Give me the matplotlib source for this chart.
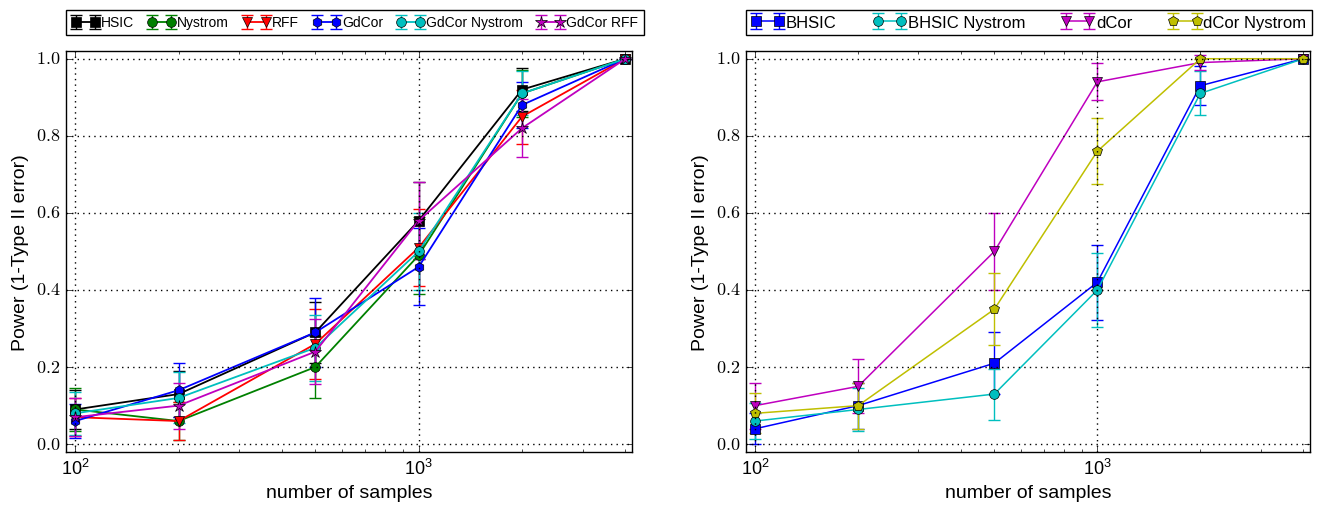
import numpy as np
import matplotlib
matplotlib.use('Agg')
from matplotlib import pyplot as plt
from matplotlib.ticker import FuncFormatter

plt.style.use('classic')
plt.rcParams['font.family'] = ['Liberation Sans', 'DejaVu Sans']
plt.rcParams['mathtext.fontset'] = 'cm'
plt.rcParams['figure.facecolor'] = 'white'
plt.rcParams['savefig.facecolor'] = 'white'

n_samples = [100, 200, 500, 1000, 2000, 4000]

# left panel
hsic = [0.09, 0.13, 0.29, 0.58, 0.92, 1.0]
hsic_err = [0.05, 0.06, 0.08, 0.10, 0.055, 0.0]
nystrom = [0.09, 0.06, 0.20, 0.49, 0.91, 1.0]
nystrom_err = [0.056, 0.05, 0.08, 0.10, 0.06, 0.0]
rff = [0.07, 0.06, 0.26, 0.51, 0.85, 1.0]
rff_err = [0.05, 0.05, 0.09, 0.10, 0.07, 0.0]
gdcor = [0.06, 0.14, 0.29, 0.46, 0.88, 1.0]
gdcor_err = [0.045, 0.07, 0.09, 0.10, 0.06, 0.0]
gdcor_nys = [0.08, 0.12, 0.25, 0.50, 0.91, 1.0]
gdcor_nys_err = [0.055, 0.066, 0.085, 0.10, 0.057, 0.0]
gdcor_rff = [0.07, 0.10, 0.24, 0.58, 0.82, 1.0]
gdcor_rff_err = [0.05, 0.06, 0.085, 0.10, 0.075, 0.0]

# right panel
bhsic = [0.04, 0.10, 0.21, 0.42, 0.93, 1.0]
bhsic_err = [0.04, 0.06, 0.08, 0.098, 0.05, 0.0]
bhsic_nys = [0.06, 0.09, 0.13, 0.40, 0.91, 1.0]
bhsic_nys_err = [0.047, 0.056, 0.066, 0.095, 0.057, 0.0]
dcor = [0.10, 0.15, 0.50, 0.94, 0.99, 1.0]
dcor_err = [0.06, 0.07, 0.10, 0.048, 0.02, 0.0]
dcor_nys = [0.08, 0.10, 0.35, 0.76, 1.0, 1.0]
dcor_nys_err = [0.052, 0.06, 0.093, 0.085, 0.0, 0.0]

left_series = [
    ('HSIC', hsic, hsic_err, 'k', 's'),
    ('Nystrom', nystrom, nystrom_err, 'g', 'o'),
    ('RFF', rff, rff_err, 'r', 'v'),
    ('GdCor', gdcor, gdcor_err, 'b', 'h'),
    ('GdCor Nystrom', gdcor_nys, gdcor_nys_err, 'c', 'o'),
    ('GdCor RFF', gdcor_rff, gdcor_rff_err, 'm', '*'),
]
right_series = [
    ('BHSIC', bhsic, bhsic_err, 'b', 's'),
    ('BHSIC Nystrom', bhsic_nys, bhsic_nys_err, 'c', 'o'),
    ('dCor', dcor, dcor_err, 'm', 'v'),
    ('dCor Nystrom', dcor_nys, dcor_nys_err, 'y', 'p'),
]

fig = plt.figure(figsize=(13.17, 5.10), dpi=100)
ax1 = fig.add_axes([0.0501, 0.112, 0.4298, 0.786])
ax2 = fig.add_axes([0.5664, 0.112, 0.4282, 0.786])

def draw(ax, series, lw):
    for name, y, e, c, m in series:
        ms = 9 if m == '*' else 7
        ax.errorbar(n_samples, y, yerr=e, color=c, marker=m, markersize=ms,
                    markeredgecolor='k', linewidth=lw, capsize=4,
                    elinewidth=1.0, capthick=1.0, label=name)
    ax.set_xscale('log')
    ax.set_xlim(94, 4180)
    ax.set_ylim(-0.02, 1.02)
    ax.set_yticks([0.0, 0.2, 0.4, 0.6, 0.8, 1.0])
    ax.yaxis.set_major_formatter(FuncFormatter(lambda v, p: r'$%.1f$' % v))
    ax.grid(True, linestyle=':', color='k', linewidth=1.0)
    ax.tick_params(labelsize=13)
    ax.set_xlabel('number of samples', fontsize=14)
    ax.set_ylabel('Power (1-Type II error)', fontsize=14)

draw(ax1, left_series, 1.3)
draw(ax2, right_series, 1.1)

leg1 = ax1.legend(loc='lower left', bbox_to_anchor=(0.0, 1.04), ncol=6,
                  numpoints=2, fontsize=10, handlelength=2.0,
                  handletextpad=0.1, columnspacing=1.0, borderpad=0.4,
                  borderaxespad=0.0, fancybox=False)
leg1.get_frame().set_edgecolor('k')

leg2 = ax2.legend(loc='lower left', bbox_to_anchor=(0.0, 1.04, 1.003, 0.07),
                  mode='expand', ncol=4,
                  numpoints=2, fontsize=12, handlelength=2.0,
                  handletextpad=0.1, columnspacing=1.0, borderpad=0.3,
                  borderaxespad=0.0, fancybox=False)
leg2.get_frame().set_edgecolor('k')

fig.savefig('out.png', dpi=100)
